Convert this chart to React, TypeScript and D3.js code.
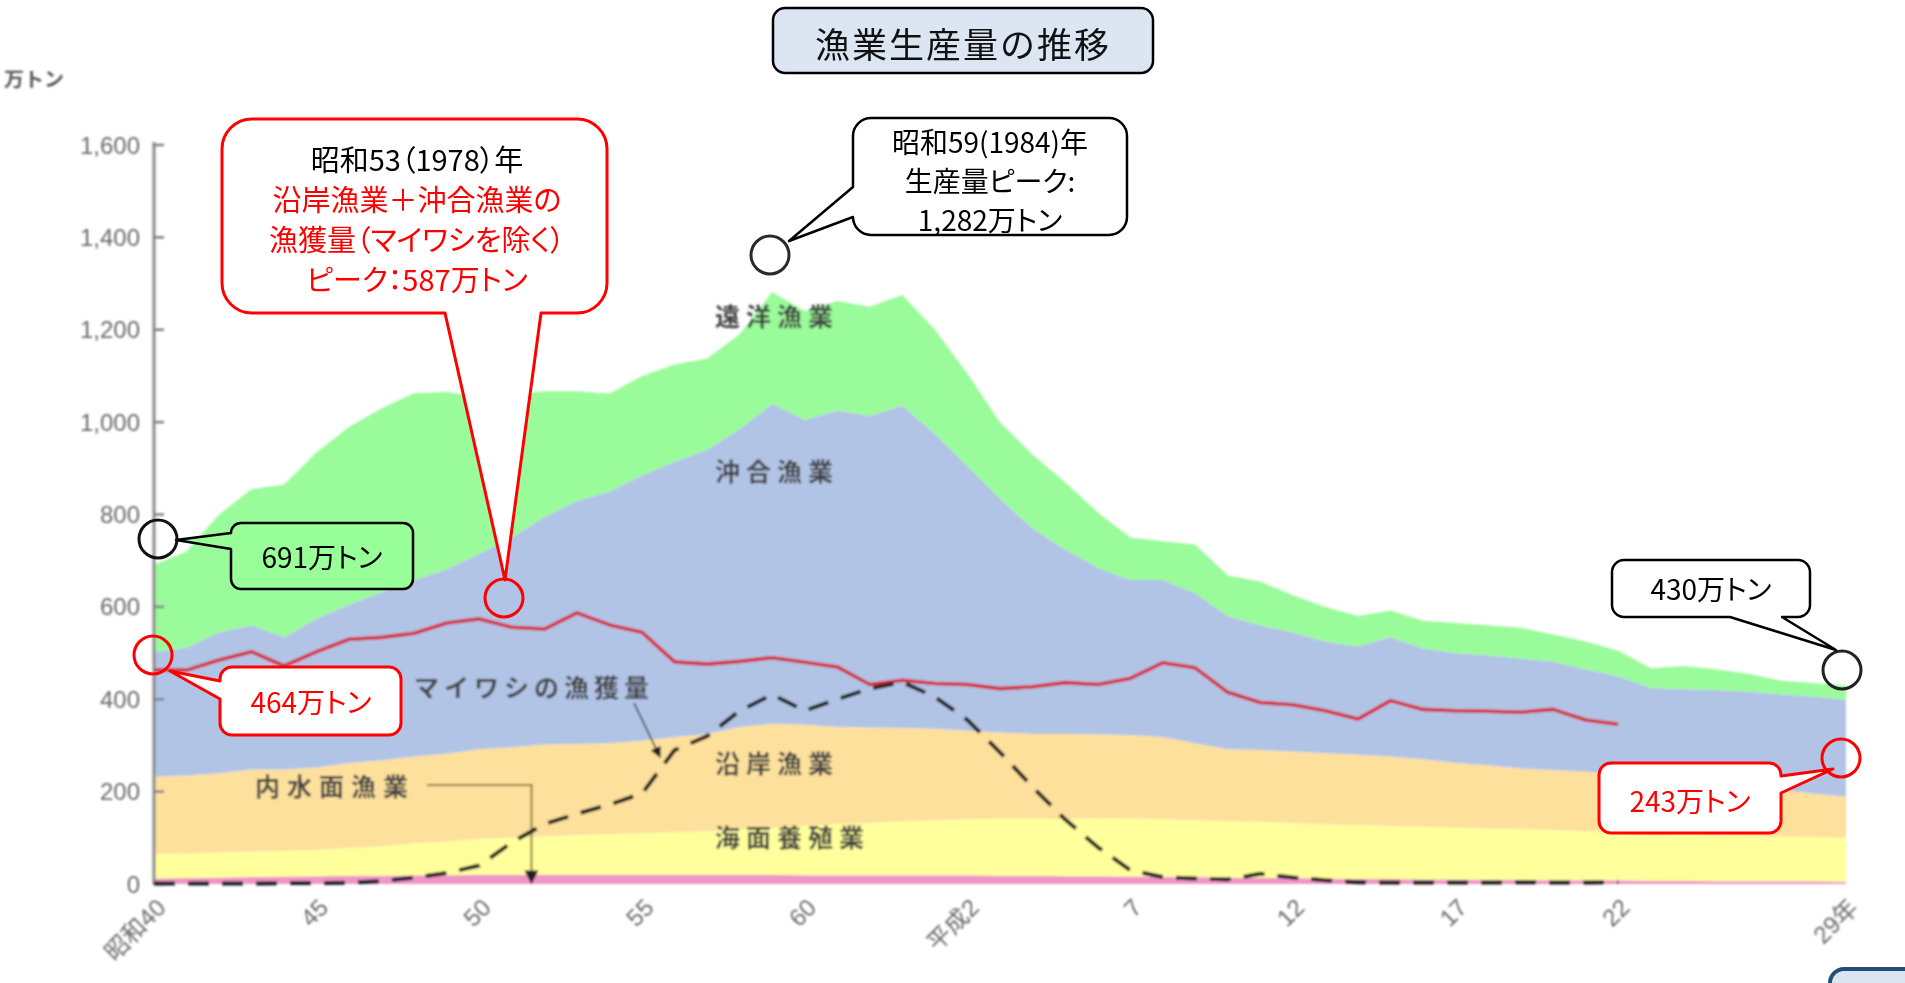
import React from "react";
import * as d3 from "d3";

// 漁業・養殖業生産量（万トン）、昭和40年(1965)〜平成29年(2017)
const START_YEAR = 1965;

const inlandWaters = [
  12, 13, 14, 15, 16, 17, 18, 18, 19, 19,
  20, 20, 20, 20, 20, 20, 20, 20, 20, 20,
  19, 19, 19, 19, 19, 19, 18, 18, 17, 17,
  16, 15, 15, 14, 13, 13, 12, 11, 11, 10,
  10, 9, 9, 8, 8, 8, 7, 7, 6, 6,
  6, 6, 5,
];

const marineCulture = [
  53, 53, 54, 55, 56, 57, 60, 64, 69, 73,
  78, 80, 83, 86, 88, 90, 92, 94, 98, 102,
  107, 111, 113, 117, 119, 121, 124, 124, 124, 126,
  126, 125, 123, 122, 122, 119, 117, 117, 115, 114,
  112, 111, 110, 109, 106, 104, 98, 100, 99, 98,
  97, 96, 95,
];

const coastal = [
  167, 169, 172, 178, 176, 178, 184, 186, 188, 190,
  194, 196, 199, 197, 197, 200, 206, 211, 222, 225,
  219, 210, 207, 202, 198, 192, 186, 183, 184, 181,
  180, 178, 167, 156, 155, 155, 154, 152, 150, 146,
  140, 137, 131, 130, 129, 128, 127, 118, 113, 106,
  100, 94, 89,
];

const offshore = [
  271, 277, 305, 312, 287, 323, 343, 364, 382, 400,
  423, 454, 493, 527, 545, 575, 597, 615, 645, 693,
  660, 685, 675, 698, 639, 573, 507, 445, 400, 361,
  336, 340, 325, 288, 270, 258, 242, 235, 259, 240,
  238, 238, 238, 235, 222, 210, 193, 197, 202, 207,
  208, 210, 210,
];

const distantWater = [
  188, 208, 255, 295, 330, 360, 385, 398, 405, 383,
  340, 310, 272, 237, 212, 215, 210, 198, 205, 242,
  235, 237, 236, 239, 225, 200, 165, 160, 145, 120,
  92, 84, 105, 88, 95, 80, 75, 65, 57, 60,
  65, 65, 67, 58, 60, 55, 42, 50, 45, 38,
  29, 29, 31,
];

// 沿岸漁業＋沖合漁業の漁獲量（マイワシを除く）、1965〜2010
const catchExclSardine = [
  464, 463, 485, 503, 472, 503, 530, 534, 543, 565,
  574, 556, 552, 587, 561, 545, 481, 476, 482, 490,
  480, 470, 432, 441, 434, 432, 423, 427, 436, 432,
  445, 479, 468, 415, 393, 388, 375, 357, 397, 378,
  375, 374, 372, 378, 355, 346,
];

// マイワシの漁獲量、1965〜2010
const sardineCatch = [
  1, 1, 1, 1, 2, 2, 3, 6, 14, 24,
  40, 90, 130, 152, 172, 196, 290, 320, 375, 410,
  375, 400, 423, 437, 405, 355, 285, 210, 140, 80,
  30, 15, 12, 10, 22, 14, 8, 4, 3, 3,
  3, 3, 4, 3, 3, 4,
];

const xTickYears = [1965, 1970, 1975, 1980, 1985, 1990, 1995, 2000, 2005, 2010, 2017];
const xTickLabels = ["昭和40", "45", "50", "55", "60", "平成2", "7", "12", "17", "22", "29年"];
const yTickValues = [0, 200, 400, 600, 800, 1000, 1200, 1400, 1600];

const seriesKeys = ["inland", "culture", "coastal", "offshore", "distant"];
const seriesColors: Record<string, string> = {
  inland: "#ee96c6",
  culture: "#ffff9c",
  coastal: "#fde09c",
  offshore: "#b1c4e6",
  distant: "#9afb9a",
};

const W = 1905;
const H = 983;
const x = d3.scaleLinear().domain([1965, 2017]).range([154, 1846]);
const y = d3.scaleLinear().domain([0, 1600]).range([884, 145]);

type Row = { year: number; inland: number; culture: number; coastal: number; offshore: number; distant: number };

const rows: Row[] = distantWater.map((_, i) => ({
  year: START_YEAR + i,
  inland: inlandWaters[i],
  culture: marineCulture[i],
  coastal: coastal[i],
  offshore: offshore[i],
  distant: distantWater[i],
}));

const stacked = d3.stack<Row>().keys(seriesKeys)(rows);

const areaGen = d3
  .area<d3.SeriesPoint<Row>>()
  .x((d) => x(d.data.year))
  .y0((d) => y(d[0]))
  .y1((d) => y(d[1]));

const lineGen = d3
  .line<number>()
  .x((_, i) => x(START_YEAR + i))
  .y((d) => y(d));

type Side = "left" | "right" | "top" | "bottom";

function calloutPath(
  bx: number, by: number, w: number, h: number, r: number,
  side?: Side, b1 = 0, b2 = 0, tip: [number, number] = [0, 0]
) {
  const p = d3.path();
  p.moveTo(bx + r, by);
  if (side === "top") { p.lineTo(b1, by); p.lineTo(tip[0], tip[1]); p.lineTo(b2, by); }
  p.lineTo(bx + w - r, by);
  p.arcTo(bx + w, by, bx + w, by + r, r);
  if (side === "right") { p.lineTo(bx + w, b1); p.lineTo(tip[0], tip[1]); p.lineTo(bx + w, b2); }
  p.lineTo(bx + w, by + h - r);
  p.arcTo(bx + w, by + h, bx + w - r, by + h, r);
  if (side === "bottom") { p.lineTo(b2, by + h); p.lineTo(tip[0], tip[1]); p.lineTo(b1, by + h); }
  p.lineTo(bx + r, by + h);
  p.arcTo(bx, by + h, bx, by + h - r, r);
  if (side === "left") { p.lineTo(bx, b2); p.lineTo(tip[0], tip[1]); p.lineTo(bx, b1); }
  p.lineTo(bx, by + r);
  p.arcTo(bx, by, bx + r, by, r);
  p.closePath();
  return p.toString();
}

type Line = { text: string; color: string; cy: number };
type Callout = {
  box: [number, number, number, number, number];
  side?: Side; b1?: number; b2?: number; tip?: [number, number];
  fill: string; stroke: string; strokeWidth: number;
  cx: number; size: number; lines: Line[];
  ring?: { cx: number; cy: number; color: string };
};

const RED = "#ff0000";
const JP = "'Noto Sans CJK JP', 'Noto Sans', sans-serif";

const callouts: Callout[] = [
  {
    box: [853, 118, 274, 117, 18], side: "left", b1: 187, b2: 217, tip: [789, 241],
    fill: "#fff", stroke: "#000", strokeWidth: 2.5, cx: 990, size: 28,
    lines: [
      { text: "昭和59(1984)年", color: "#000", cy: 141 },
      { text: "生産量ピーク:", color: "#000", cy: 180 },
      { text: "1,282万トン", color: "#000", cy: 219 },
    ],
    ring: { cx: 770, cy: 255, color: "#2a2a2a" },
  },
  {
    box: [222, 119, 385, 194, 30], side: "bottom", b1: 445, b2: 541, tip: [505, 580],
    fill: "#fff", stroke: RED, strokeWidth: 3, cx: 417, size: 29,
    lines: [
      { text: "昭和53（1978）年", color: "#000", cy: 158 },
      { text: "沿岸漁業＋沖合漁業の", color: RED, cy: 198 },
      { text: "漁獲量（マイワシを除く）", color: RED, cy: 238 },
      { text: "ピーク：587万トン", color: RED, cy: 278 },
    ],
    ring: { cx: 504, cy: 598, color: RED },
  },
  {
    box: [231, 523, 182, 66, 10], side: "left", b1: 533, b2: 549, tip: [176, 540],
    fill: "#99ff99", stroke: "#000", strokeWidth: 2.5, cx: 322, size: 28,
    lines: [{ text: "691万トン", color: "#000", cy: 556 }],
    ring: { cx: 158, cy: 539, color: "#111" },
  },
  {
    box: [220, 667, 181, 68, 12], side: "left", b1: 681, b2: 699, tip: [170, 671],
    fill: "#fff", stroke: RED, strokeWidth: 3, cx: 311, size: 28,
    lines: [{ text: "464万トン", color: RED, cy: 701 }],
    ring: { cx: 153, cy: 655, color: RED },
  },
  {
    box: [1612, 560, 198, 57, 12], side: "bottom", b1: 1730, b2: 1782, tip: [1836, 650],
    fill: "#fff", stroke: "#000", strokeWidth: 2.5, cx: 1711, size: 28,
    lines: [{ text: "430万トン", color: "#000", cy: 588 }],
    ring: { cx: 1842, cy: 670, color: "#222" },
  },
  {
    box: [1599, 763, 182, 70, 12], side: "right", b1: 776, b2: 793, tip: [1833, 769],
    fill: "#fff", stroke: RED, strokeWidth: 3, cx: 1690, size: 28,
    lines: [{ text: "243万トン", color: RED, cy: 800 }],
    ring: { cx: 1841, cy: 758, color: RED },
  },
];

const areaLabels = [
  { text: "遠洋漁業", x: 715, cy: 315, spacing: 6 },
  { text: "沖合漁業", x: 715, cy: 470, spacing: 6 },
  { text: "沿岸漁業", x: 715, cy: 762, spacing: 6 },
  { text: "海面養殖業", x: 715, cy: 836, spacing: 6 },
  { text: "マイワシの漁獲量", x: 414, cy: 686, spacing: 5 },
  { text: "内水面漁業", x: 255, cy: 785, spacing: 7 },
];

export default function App() {
  const fmt = d3.format(",");
  const leaderX = x(1976.6);
  return (
    <svg width={W} height={H} viewBox={`0 0 ${W} ${H}`} style={{ display: "block", position: "absolute", left: 0, top: 0 }}>
      <defs>
        <filter id="soft" x="-2%" y="-2%" width="104%" height="104%">
          <feGaussianBlur stdDeviation="0.8" />
        </filter>
        <marker id="arrowDark" viewBox="0 0 10 10" refX="9" refY="5" markerWidth="7" markerHeight="7" orient="auto-start-reverse">
          <path d="M0,0 L10,5 L0,10 z" fill="#222" />
        </marker>
      </defs>
      <rect x={0} y={0} width={W} height={H} fill="#fff" />

      <g filter="url(#soft)">
        {/* 積み上げ面 */}
        {stacked.map((s) => (
          <path key={s.key} d={areaGen(s) ?? ""} fill={seriesColors[s.key]} />
        ))}

        {/* Y 軸 */}
        <line x1={x(1965)} x2={x(1965)} y1={y(1600) - 3} y2={y(0) + 1} stroke="#8a8a8a" strokeWidth={3} />
        {yTickValues.map((v) => (
          <g key={v}>
            <line x1={x(1965)} x2={x(1965) + 10} y1={y(v)} y2={y(v)} stroke="#808080" strokeWidth={2.5} />
            <text
              x={140}
              y={y(v)}
              textAnchor="end"
              dominantBaseline="central"
              fontFamily="'Liberation Sans', Arial, sans-serif"
              fontSize={24}
              fill="#6a6a6a"
            >
              {fmt(v)}
            </text>
          </g>
        ))}
        <text x={4} y={78} dominantBaseline="central" fontFamily={JP} fontSize={20} fontWeight={700} fill="#555">
          万トン
        </text>

        {/* X 軸ラベル */}
        {xTickYears.map((yr, i) => (
          <text
            key={yr}
            transform={`translate(${x(yr) + 7},${903}) rotate(-45)`}
            textAnchor="end"
            dominantBaseline="central"
            fontFamily={`'Liberation Sans', Arial, ${JP}`}
            fontSize={24}
            fill="#6a6a6a"
          >
            {xTickLabels[i]}
          </text>
        ))}

        {/* 面のラベル */}
        {areaLabels.map((l) => (
          <text
            key={l.text}
            x={l.x}
            y={l.cy}
            dominantBaseline="central"
            fontFamily={JP}
            fontSize={25}
            fontWeight={700}
            letterSpacing={l.spacing}
            fill="#444"
          >
            {l.text}
          </text>
        ))}

        {/* 引き出し線 */}
        <line x1={634} y1={703} x2={660} y2={757} stroke="#333" strokeWidth={1.6} markerEnd="url(#arrowDark)" />
        <polyline
          points={`427,785 ${leaderX},785 ${leaderX},${y(0) - 1}`}
          fill="none"
          stroke="#8c7d3c"
          strokeWidth={2}
          markerEnd="url(#arrowDark)"
        />

        {/* 折れ線 */}
        <path d={lineGen(catchExclSardine) ?? ""} fill="none" stroke="#d4283a" strokeWidth={3.6} strokeLinejoin="round" />
        <path
          d={lineGen(sardineCatch) ?? ""}
          fill="none"
          stroke="#1e1e1e"
          strokeWidth={4}
          strokeDasharray="21 13"
          strokeLinejoin="round"
        />
      </g>

      {/* タイトル */}
      <rect x={773} y={8} width={380} height={65} rx={12} fill="#dce6f2" stroke="#000" strokeWidth={2.5} />
      <text x={963} y={42} textAnchor="middle" dominantBaseline="central" fontFamily={JP} fontSize={35} letterSpacing={2} fill="#111">
        漁業生産量の推移
      </text>

      {/* 吹き出し */}
      {callouts.map((c, i) => {
        const [bx, by, w, h, r] = c.box;
        return (
          <g key={i}>
            <path
              d={calloutPath(bx, by, w, h, r, c.side, c.b1, c.b2, c.tip)}
              fill={c.fill}
              stroke={c.stroke}
              strokeWidth={c.strokeWidth}
              strokeLinejoin="round"
            />
            <text
              textAnchor="middle"
              dominantBaseline="central"
              fontFamily={JP}
              fontSize={c.size}
              style={{ fontFeatureSettings: "'palt'" }}
            >
              {c.lines.map((ln) => (
                <tspan key={ln.text} x={c.cx} y={ln.cy} fill={ln.color} dominantBaseline="central">
                  {ln.text}
                </tspan>
              ))}
            </text>
            {c.ring && (
              <circle cx={c.ring.cx} cy={c.ring.cy} r={19} fill="none" stroke={c.ring.color} strokeWidth={3} />
            )}
          </g>
        );
      })}

      {/* 右下のボタン */}
      <rect x={1830} y={969} width={100} height={50} rx={14} fill="#dae5f1" stroke="#1f4e79" strokeWidth={4} />
    </svg>
  );
}
